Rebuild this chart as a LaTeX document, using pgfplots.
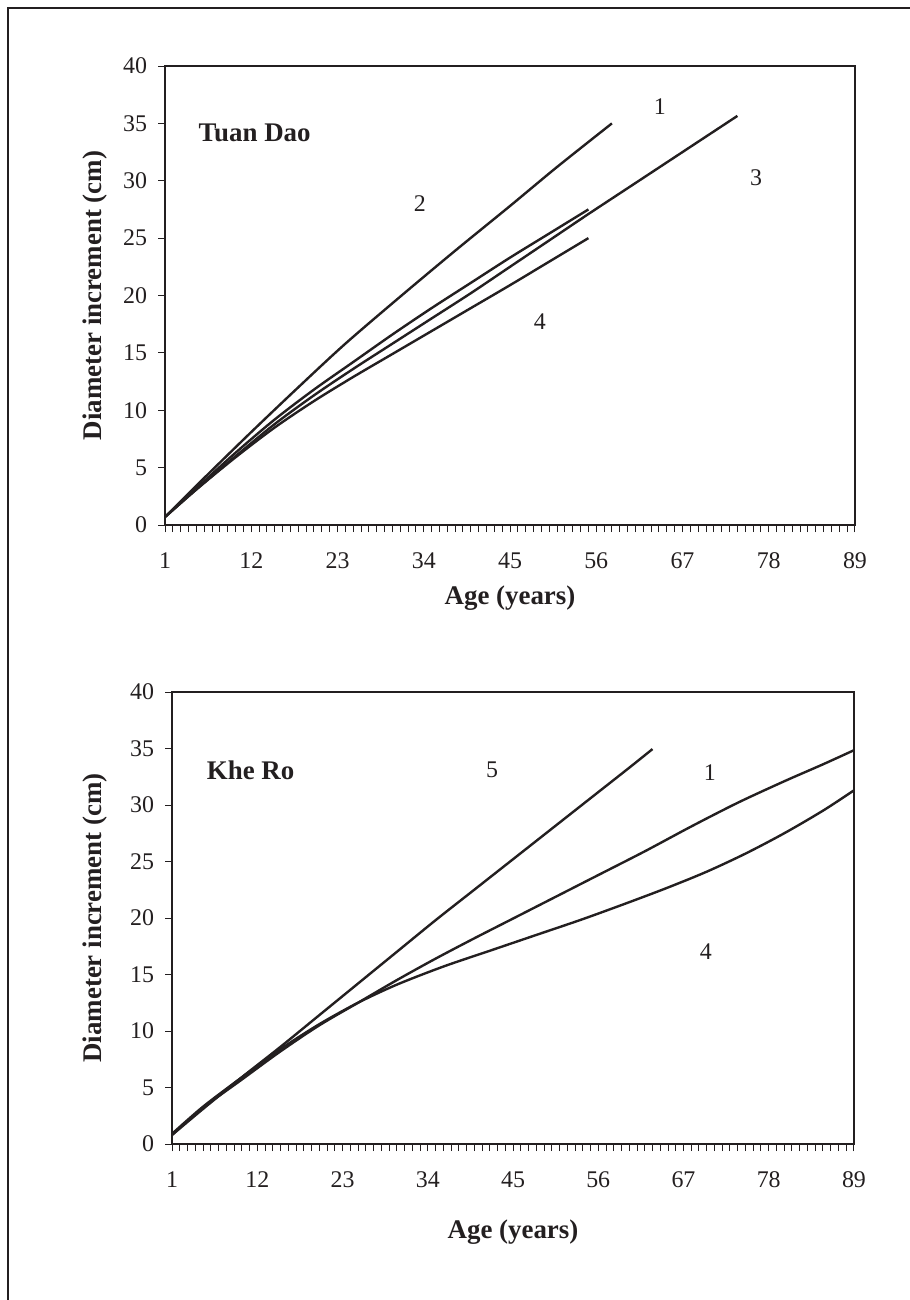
\documentclass[border=0pt]{standalone}
\usepackage{fontspec}
\setmainfont{Liberation Serif}
\usepackage{pgfplots}
\usepackage{pgfplotstable}
\pgfplotsset{compat=1.18}
\definecolor{ink}{RGB}{35,31,32}

% Tuan Dao
\pgfplotstableread{
x y
1 0.7
6 4.1
12 8.1
18 12.0
24 15.8
31 19.9
38 23.9
45 27.8
51 31.2
58 35.0
}\topA
\pgfplotstableread{
x y
1 0.7
5 3.2
10 6.3
15 9.2
20 11.8
25 14.2
30 16.6
35 18.9
40 21.1
45 23.3
50 25.4
55 27.5
}\topB
\pgfplotstableread{
x y
1 0.7
5 3.1
10 6.0
15 8.8
20 11.3
25 13.6
30 15.8
35 18.0
40 20.2
45 22.5
50 24.8
55 27.1
61 29.8
67 32.5
74 35.65
}\topC
\pgfplotstableread{
x y
1 0.7
5 3.1
10 5.9
15 8.5
20 10.8
25 12.9
30 14.9
35 16.9
40 18.9
45 20.9
50 22.95
55 25.0
}\topD

% Khe Ro
\pgfplotstableread{
x y
1 0.8
5 3.1
10 5.9
15 8.6
20 11.4
25 14.2
30 17.0
35 19.8
40 22.5
45 25.2
50 27.9
55 30.6
60 33.3
63 34.95
}\botA
\pgfplotstableread{
x y
1 0.8
5 3.2
10 5.7
15 8.2
20 10.5
25 12.5
30 14.5
35 16.4
40 18.2
45 19.95
50 21.7
56 23.8
62 25.9
68 28.1
74 30.2
80 32.1
85 33.6
89 34.85
}\botB
\pgfplotstableread{
x y
1 0.9
5 3.3
10 5.9
15 8.4
20 10.6
25 12.5
30 14.1
36 15.7
42 17.1
48 18.5
54 19.9
60 21.4
65 22.7
70 24.1
75 25.7
80 27.5
85 29.5
89 31.3
}\botC

\pgfplotsset{
  growth/.style={
    scale only axis,
    xmin=1, xmax=89, ymin=0, ymax=40,
    xtick={1,12,...,89},
    minor xtick={1,...,89},
    ytick={0,5,...,40},
    tick pos=left,
    tick align=outside,
    major tick length=3.5bp,
    minor tick length=3.5bp,
    axis line style={ink, line width=1.2bp},
    tick style={ink, line width=0.5bp},
    /pgf/number format/assume math mode=true,
    ticklabel style={font=\fontsize{12}{14}\selectfont, text=ink},
    xticklabel shift=7bp,
    yticklabel shift=2bp,
    label style={font=\fontsize{13.5}{16}\selectfont\bfseries, text=ink},
    xlabel={Age (years)},
    ylabel={Diameter increment (cm)},
    clip=false,
  },
  curve/.style={ink, line width=1.2bp, no marks, smooth},
}
\tikzset{
  num/.style={font=\fontsize{12}{14}\selectfont, text=ink},
  site/.style={font=\fontsize{13.5}{16}\selectfont\bfseries, text=ink, anchor=west},
}

\begin{document}
\begin{tikzpicture}
\path[use as bounding box] (0,0) rectangle (455bp,-650bp);
\draw[ink, line width=0.75bp] (4bp,-660bp) -- (4bp,-4bp) -- (470bp,-4bp);

\begin{axis}[growth, at={(82.5bp,-33bp)}, anchor=north west,
  width=345bp, height=229.5bp,
  ylabel style={at={(axis description cs:-0.101,0.5)}, anchor=center},
  xlabel style={at={(axis description cs:0.5,-0.16)}, anchor=center}]
  \addplot[curve] table {\topA};
  \addplot[curve] table {\topB};
  \addplot[curve] table {\topC};
  \addplot[curve] table {\topD};
  \node[site] at (axis cs:4.4,34.2) {Tuan Dao};
  \node[num] at (axis cs:64.1,36.5) {1};
  \node[num] at (axis cs:33.5,28.0) {2};
  \node[num] at (axis cs:76.4,30.3) {3};
  \node[num] at (axis cs:48.8,17.7) {4};
\end{axis}

\begin{axis}[growth, at={(86bp,-346bp)}, anchor=north west,
  width=341bp, height=226bp,
  ylabel style={at={(axis description cs:-0.113,0.5)}, anchor=center},
  xlabel style={at={(axis description cs:0.5,-0.195)}, anchor=center}]
  \addplot[curve] table {\botA};
  \addplot[curve] table {\botB};
  \addplot[curve] table {\botC};
  \node[site] at (axis cs:4.6,33.1) {Khe Ro};
  \node[num] at (axis cs:42.3,33.1) {5};
  \node[num] at (axis cs:70.4,32.9) {1};
  \node[num] at (axis cs:69.9,17.0) {4};
\end{axis}
\end{tikzpicture}
\end{document}
